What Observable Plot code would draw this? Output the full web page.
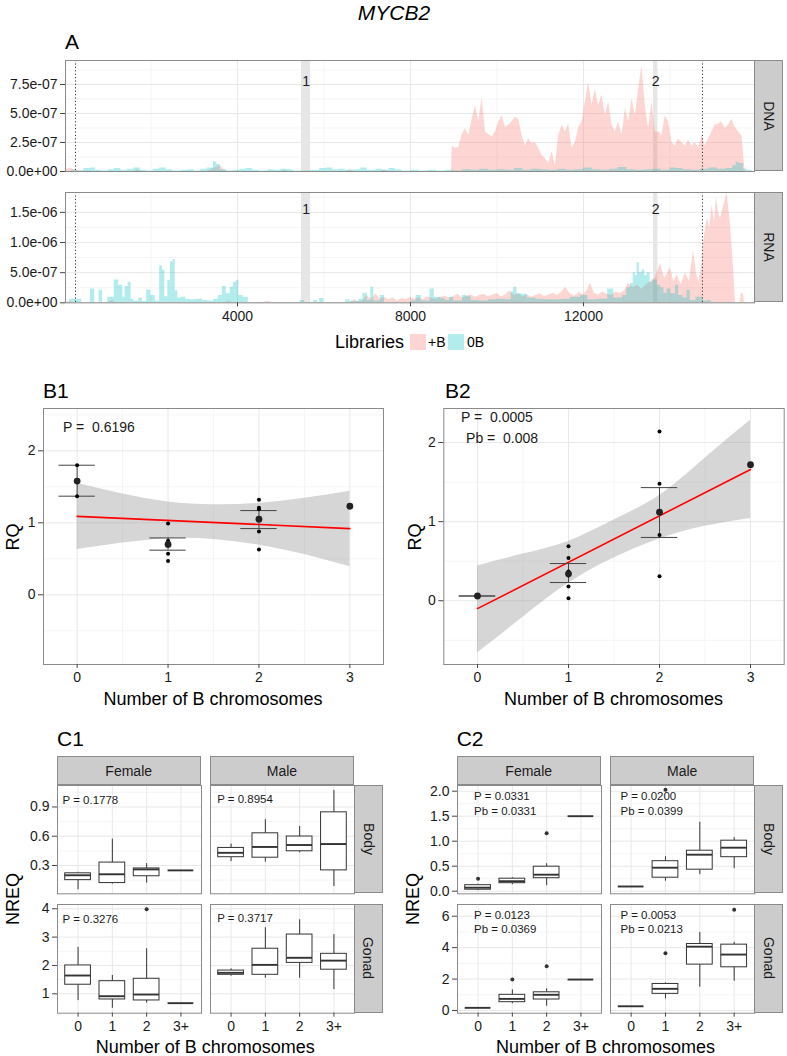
<!DOCTYPE html>
<html><head><meta charset="utf-8">
<script src="https://cdn.jsdelivr.net/npm/d3@7"></script>
<script src="https://cdn.jsdelivr.net/npm/@observablehq/plot@0.6"></script>
<style>
body{margin:0;background:#fff;}
#fig{position:relative;width:787px;height:1056px;font-family:"Liberation Sans",Arial,Helvetica,sans-serif;color:#000;overflow:hidden;background:#fff;}
.lbl{position:absolute;white-space:nowrap;line-height:1;}
.strip{position:absolute;background:#cccccc;border:1px solid #8a8a8a;box-sizing:border-box;display:flex;align-items:center;justify-content:center;font-size:14px;color:#1a1a1a;}
.strip.v span{display:inline-block;transform:rotate(90deg);}
.plotbox{position:absolute;}
.sw{position:absolute;width:16px;height:16px;}
#fig g[aria-label$="tick label"], #fig g[aria-label$="tick label"] text{font-size:14px !important;}
</style></head>
<body><div id="fig"></div>
<script>
// ---------------- DATA ----------------
const unit = 1e-7;
// Panel A : genomic position (bp) and coverage (in 1e-7 units)
const exons = [{start: 5480, end: 5690, label: "1"}, {start: 13620, end: 13720, label: "2"}];
const dottedPos = [254, 14751];
const xTicksA = [4000, 8000, 12000];
const xMinorA = [2000, 6000, 10000, 14000];
const dnaTicks = [0, 2.5e-7, 5e-7, 7.5e-7];
const dnaTickLabels = ["0.0e+00", "2.5e-07", "5.0e-07", "7.5e-07"];
const rnaTicks = [0, 5e-7, 1e-6, 1.5e-6];
const rnaTickLabels = ["0.0e+00", "5.0e-07", "1.0e-06", "1.5e-06"];

const dnaPlusLow = [[30,0.15],[150,0.3],[250,0.1],[400,0.05],[700,0],[1600,0],[1700,0.15],[1800,0],[3300,0],[3400,0.2],[3600,0.5],[3700,0.1],[3800,0],[5000,0],[5100,0.1],[5200,0],[6500,0],[6600,0.15],[6700,0],[7300,0],[7400,0.15],[7500,0],[8950,0]];
const dnaPlusStart = 8963, dnaPlusStep = 77;
const dnaPlusMain = [2.2,2.0,2.1,3.2,3.7,3.1,4.5,5.7,4.3,6.4,3.4,3.2,3.0,3.4,4.3,4.8,3.8,4.0,4.3,4.7,4.5,3.1,2.2,2.8,2.4,2.5,2.0,1.4,1.1,0.7,1.7,0.5,3.1,4.0,3.4,4.1,2.0,2.5,3.8,4.3,6.0,7.7,5.7,7.1,5.7,6.6,4.8,6.0,4.0,3.4,4.3,3.1,5.4,4.3,6.3,4.8,7.1,9.1,5.7,3.7,6.0,3.4,3.4,3.1,4.8,4.3,2.5,2.2,2.8,2.5,2.2,2.7,2.2,2.5,2.0,3.1,2.2,2.8,3.4,4.0,4.1,4.3,3.7,4.0,4.5,3.8,3.4,3.1,0];
const dnaZero = [[30,0],[150,0.1],[300,0.05],[450,0.25],[600,0.3],[720,0.1],[850,0.05],[1000,0.15],[1150,0.25],[1300,0.1],[1450,0.2],[1600,0.3],[1750,0.1],[1900,0.05],[2050,0.2],[2200,0.3],[2350,0.15],[2500,0.05],[2700,0.1],[2850,0.15],[3000,0.05],[3150,0.2],[3300,0.3],[3445,0.85],[3520,0.6],[3600,0.15],[3750,0.05],[3900,0.1],[4050,0.2],[4200,0.25],[4350,0.1],[4500,0.05],[4700,0.15],[4850,0.1],[5000,0.2],[5150,0.15],[5300,0.05],[5500,0.05],[5700,0.1],[5900,0.25],[6050,0.3],[6200,0.15],[6350,0.2],[6500,0.1],[6700,0.15],[6850,0.3],[7000,0.1],[7200,0.2],[7350,0.1],[7500,0.25],[7650,0.15],[7800,0.05],[8000,0.1],[8200,0.05],[8400,0.1],[8600,0.05],[8800,0.1],[9000,0.05],[9200,0.15],[9400,0.1],[9600,0.2],[9800,0.1],[10000,0.15],[10200,0.1],[10400,0.25],[10600,0.1],[10800,0.2],[11000,0.15],[11200,0.1],[11400,0.2],[11600,0.1],[11800,0.15],[12000,0.3],[12200,0.15],[12400,0.1],[12600,0.2],[12800,0.35],[13000,0.15],[13200,0.1],[13400,0.15],[13600,0.2],[13800,0.1],[14000,0.3],[14150,0.25],[14300,0.15],[14500,0.1],[14700,0.2],[14900,0.3],[15100,0.2],[15300,0.25],[15450,0.5],[15530,0.8],[15600,0.7],[15700,0.2],[15800,0.1],[15900,0]];
const rnaPlus = [[30,0],[100,0.3],[200,0],[1000,0],[1100,0.4],[1200,0],[3700,0],[3800,0.3],[3900,0],[4600,0],[4700,0.3],[4800,0],[6600,0],[6700,0.5],[6800,0.2],[6900,0.3],[7000,1.2],[7100,0.5],[7200,1.5],[7300,0.6],[7400,0.9],[7500,0.5],[7600,0.8],[7700,0.3],[7800,0.7],[7900,0.5],[8000,0.9],[8100,0.6],[8200,0.8],[8300,0.5],[8400,1.0],[8500,0.7],[8600,0.6],[8700,0.9],[8800,1.1],[8900,0.8],[9000,1.0],[9100,1.4],[9200,0.8],[9300,1.1],[9400,1.3],[9500,0.9],[9600,1.2],[9700,1.4],[9800,1.0],[9900,1.3],[10000,1.6],[10100,1.0],[10200,1.3],[10300,2.0],[10400,1.2],[10500,1.5],[10600,1.0],[10700,1.3],[10800,0.9],[10900,1.2],[11000,1.5],[11100,1.0],[11200,1.3],[11300,1.6],[11400,1.2],[11500,1.8],[11580,2.6],[11700,1.4],[11800,1.1],[11900,1.7],[12000,1.3],[12100,2.2],[12160,3.3],[12250,1.6],[12350,1.3],[12450,1.8],[12550,1.4],[12650,1.2],[12750,1.8],[12850,1.5],[12950,2.0],[13040,3.2],[13150,2.5],[13250,2.9],[13350,2.2],[13450,3.0],[13550,3.5],[13650,4.0],[13780,6.5],[13880,4.0],[14012,5.9],[14090,3.5],[14166,4.6],[14260,3.0],[14358,5.0],[14450,3.5],[14545,8.7],[14610,5.0],[14667,3.4],[14730,6.0],[14782,10.4],[14860,14.0],[14920,12.5],[14975,16.2],[15030,13.5],[15075,17.6],[15120,15.0],[15168,14.0],[15245,16.2],[15322,18.2],[15400,12.9],[15476,5.1],[15514,0],[15620,0],[15650,1.5],[15700,1.5],[15720,0],[15950,0]];
const rnaZero = [[30,0],[120,0.6],[400,0],[600,2.3],[700,0],[800,2.1],[880,0],[1000,0.9],[1150,3.8],[1250,2.9],[1350,0.9],[1400,2.7],[1470,3.4],[1540,0.6],[1600,0.3],[1720,0.8],[1800,0.2],[1900,2.1],[2000,1.2],[2100,0.3],[2200,6.1],[2270,5.4],[2320,1.0],[2390,3.7],[2450,6.8],[2510,7.2],[2560,2.0],[2620,0.8],[2700,0.9],[2800,0.6],[2900,0.5],[3050,0.6],[3200,0.4],[3300,0.3],[3450,0.6],[3560,1.2],[3650,2.7],[3740,1.5],[3830,2.6],[3900,3.4],[3970,3.7],[4030,1.2],[4130,0.9],[4250,0],[5420,0],[5450,0.4],[5550,0],[5760,0.4],[5850,0],[5900,0.7],[6000,0],[6500,0.5],[6600,0.2],[6800,0.6],[6900,1.6],[7000,0.4],[7080,2.6],[7150,0.3],[7300,1.2],[7400,0],[8000,0.3],[8130,1.2],[8250,0.3],[8450,2.3],[8550,0.9],[8700,0.7],[8800,0.4],[8900,0.9],[9000,0.3],[9200,1.2],[9300,1.0],[9400,0.4],[9600,0.3],[9800,0.5],[10000,0.6],[10200,0.5],[10330,1.8],[10380,2.6],[10460,1.5],[10560,1.4],[10700,0.8],[10900,0.6],[11100,0.5],[11300,0.5],[11500,0.6],[11700,0.9],[11930,1.2],[12100,0.5],[12300,0.6],[12560,2.3],[12700,0.8],[12900,1.2],[13000,2.5],[13087,3.2],[13150,5.0],[13200,4.5],[13240,6.7],[13290,5.0],[13360,5.5],[13420,4.5],[13472,5.0],[13540,3.4],[13600,3.8],[13703,2.9],[13780,2.5],[13860,1.6],[13934,2.3],[14020,1.5],[14127,2.9],[14200,1.2],[14300,0.8],[14397,2.1],[14470,0.4],[14600,0.9],[14760,0.3],[14860,0.4],[14950,0],[15950,0]];
const exonLabelY = {dna: 7.8e-7, rna: 1.54e-6};

// Panels B : RQ vs number of B chromosomes
const bTicksX = [0, 1, 2, 3];
const bandX = [0, 0.5, 1, 1.5, 2, 2.5, 3];
const b1BandLo = [0.63, 0.72, 0.78, 0.77, 0.69, 0.56, 0.39];
const b1BandHi = [1.55, 1.40, 1.29, 1.25, 1.27, 1.34, 1.44];
const b1Fit = [[0, 1.09], [3, 0.92]];
const b1Points = [[0,1.80],[0,1.37],[1,0.99],[1,0.75],[1,0.70],[1,0.57],[1,0.47],[2,1.32],[2,1.21],[2,1.19],[2,0.88],[2,0.63]];
const b1Means = [[0,1.58],[1,0.70],[2,1.05],[3,1.23]];
const b1Errors = [[0,1.37,1.80],[1,0.62,0.79],[2,0.92,1.17]];
const b2BandLo = [-0.66, -0.21, 0.22, 0.54, 0.78, 0.94, 1.04];
const b2BandHi = [0.44, 0.59, 0.75, 1.02, 1.33, 1.80, 2.28];
const b2Fit = [[0, -0.10], [3, 1.66]];
const b2Points = [[0,0.06],[1,0.69],[1,0.54],[1,0.37],[1,0.32],[1,0.18],[1,0.03],[2,2.14],[2,1.48],[2,1.12],[2,0.83],[2,0.31],[3,1.72]];
const b2Means = [[0,0.06],[1,0.34],[2,1.12],[3,1.72]];
const b2Errors = [[0,0.06,0.06],[1,0.23,0.47],[2,0.80,1.43]];

// Panels C : NREQ boxplots  [lower whisker, Q1, median, Q3, upper whisker]
const cCategories = ["0", "1", "2", "3+"];
const c1BodyFemale = [[0.05,0.15,0.20,0.22,0.23],[0.11,0.12,0.21,0.33,0.57],[0.12,0.19,0.26,0.27,0.32],[0.25,0.25,0.25,0.25,0.25]];
const c1BodyMale = [[0.34,0.385,0.43,0.48,0.52],[0.335,0.38,0.49,0.63,0.77],[0.43,0.446,0.51,0.597,0.70],[0.085,0.25,0.52,0.845,1.07]];
const c1GonadFemale = [[0.76,1.32,1.645,2.0,2.64],[0.49,0.80,0.915,1.445,1.645],[0.67,0.765,0.975,1.53,2.59],[0.67,0.67,0.67,0.67,0.67]];
const c1GonadFemaleOut = [[2,3.98]];
const c1GonadMale = [[1.62,1.67,1.74,1.82,1.88],[1.55,1.67,2.02,2.59,3.33],[1.55,2.09,2.27,3.09,3.61],[1.15,1.85,2.17,2.41,3.09]];
const c2BodyFemale = [[0.01,0.03,0.07,0.12,0.14],[0.13,0.16,0.20,0.25,0.27],[0.11,0.26,0.33,0.49,0.55],[1.5,1.5,1.5,1.5,1.5]];
const c2BodyFemaleOut = [[0,0.25],[2,1.16]];
const c2BodyMale = [[0.094,0.094,0.094,0.094,0.094],[0.20,0.27,0.47,0.60,0.69],[0.33,0.43,0.73,0.81,1.38],[0.45,0.68,0.87,1.01,1.07]];
const c2BodyMaleOut = [[1,2.03]];
const c2GonadFemale = [[0.17,0.17,0.17,0.17,0.17],[0.43,0.53,0.74,1.0,1.31],[0.27,0.70,1.0,1.16,1.38],[1.97,1.97,1.97,1.97,1.97]];
const c2GonadFemaleOut = [[1,1.97],[2,2.81]];
const c2GonadMale = [[0.27,0.27,0.27,0.27,0.27],[0.74,1.06,1.38,1.69,1.76],[1.48,2.92,4.06,4.23,4.97],[1.86,2.75,3.56,4.19,4.34]];
const c2GonadMaleOut = [[1,3.64],[3,6.41]];

// ---------------- HELPERS ----------------
const FONT = '"Liberation Sans", Arial, Helvetica, sans-serif';
const baseStyle = {background: "none", overflow: "visible", fontFamily: FONT, fontSize: "14px", color: "#1a1a1a"};
const fig = document.getElementById("fig");
const GRID = "#e8e8e8", GRIDMINOR = "#f5f5f5", BORDER = "#8a8a8a", TXT = "#1a1a1a";
const AX = {fontSize: 14, fill: TXT, stroke: "#444"};

function place(node, left, top) {
  const d = document.createElement("div");
  d.className = "plotbox"; d.style.left = left + "px"; d.style.top = top + "px";
  d.appendChild(node); fig.appendChild(d);
}
function txt(text, x, y, {size = 14, anchor = "middle", rotate = 0, italic = false} = {}) {
  const d = document.createElement("div");
  d.className = "lbl"; d.textContent = text;
  d.style.left = x + "px"; d.style.top = y + "px"; d.style.fontSize = size + "px";
  if (italic) d.style.fontStyle = "italic";
  const tx = anchor === "middle" ? "-50%" : anchor === "start" ? "0%" : "-100%";
  d.style.transform = `translate(${tx},-50%)` + (rotate ? ` rotate(${rotate}deg)` : "");
  fig.appendChild(d);
}
function strip(text, left, top, w, h, vertical) {
  const d = document.createElement("div");
  d.className = "strip" + (vertical ? " v" : "");
  Object.assign(d.style, {left: left + "px", top: top + "px", width: w + "px", height: h + "px"});
  const s = document.createElement("span"); s.textContent = text; d.appendChild(s);
  fig.appendChild(d);
}
const pairs = (arr) => arr.map(([pos, val]) => ({pos, val: val * unit}));

// ---------------- PANEL A ----------------
const xDomainA = [23, 15954];
function genome({top, h, yDomain, yTicks, yLabels, plus, zero, labelY, showX}) {
  const mT = 4, mB = showX ? 30 : 4, mL = 65, mR = 33;
  const yMinor = yTicks.slice(0, -1).map((t, i) => (t + yTicks[i + 1]) / 2).concat([yTicks[yTicks.length - 1] + (yTicks[1] - yTicks[0]) / 2]);
  const marks = [
    Plot.ruleX(xMinorA, {stroke: GRIDMINOR}),
    Plot.ruleY(yMinor, {stroke: GRIDMINOR}),
    Plot.ruleX(xTicksA, {stroke: GRID}),
    Plot.ruleY(yTicks, {stroke: GRID}),
    Plot.rect(exons, {x1: "start", x2: "end", fill: "#e6e6e6"}),
    Plot.areaY(plus, {x: "pos", y: "val", fill: "#F8766D", fillOpacity: 0.3, clip: true}),
    Plot.areaY(zero, {x: "pos", y: "val", fill: "#00BFC4", fillOpacity: 0.3, curve: "step-after", clip: true}),
    Plot.ruleX(dottedPos, {stroke: "#333", strokeDasharray: "1.2,2.2", strokeWidth: 1}),
    Plot.text(exons, {x: d => (d.start + d.end) / 2, y: () => labelY, text: "label", fontSize: 14, fill: TXT}),
    Plot.frame({stroke: BORDER}),
    Plot.axisY({ticks: yTicks, tickFormat: d => yLabels[yTicks.indexOf(d)], tickSize: 5, tickPadding: 3, ...AX})
  ];
  if (showX) marks.push(Plot.axisX({ticks: xTicksA, tickFormat: d => String(d), tickSize: 4, tickPadding: 4, ...AX}));
  const p = Plot.plot({
    width: 787, height: h + mT + mB, marginTop: mT, marginBottom: mB, marginLeft: mL, marginRight: mR,
    style: baseStyle,
    x: {domain: xDomainA, label: null, axis: showX ? undefined : null},
    y: {domain: yDomain, label: null},
    marks
  });
  place(p, 0, top - mT);
}

const dnaPlusAll = pairs(dnaPlusLow).concat(dnaPlusMain.map((v, i) => ({pos: dnaPlusStart + i * dnaPlusStep, val: v * unit})));
genome({top: 60, h: 111, yDomain: [0, 9.57e-7], yTicks: dnaTicks, yLabels: dnaTickLabels,
  plus: dnaPlusAll, zero: pairs(dnaZero), labelY: exonLabelY.dna, showX: false});
genome({top: 192, h: 110.3, yDomain: [0, 1.83e-6], yTicks: rnaTicks, yLabels: rnaTickLabels,
  plus: pairs(rnaPlus), zero: pairs(rnaZero), labelY: exonLabelY.rna, showX: true});

txt("MYCB2", 394, 12, {size: 21, italic: true});
txt("A", 65, 41, {size: 21, anchor: "start"});
strip("DNA", 754, 60, 29, 111, true);
strip("RNA", 754, 192, 29, 110.3, true);
// legend
txt("Libraries", 335, 342, {size: 18, anchor: "start"});
const sw1 = document.createElement("div"); sw1.className = "sw";
Object.assign(sw1.style, {left: "410px", top: "334px", background: "rgba(248,118,109,0.3)"}); fig.appendChild(sw1);
txt("+B", 428, 342, {size: 14, anchor: "start"});
const sw2 = document.createElement("div"); sw2.className = "sw";
Object.assign(sw2.style, {left: "448px", top: "334px", background: "rgba(0,191,196,0.3)"}); fig.appendChild(sw2);
txt("0B", 467, 342, {size: 14, anchor: "start"});

// ---------------- PANELS B ----------------
function rq({svgLeft, mL, areaW, mR, yDomain, yMinor, lo, hi, fit, points, means, errors, notes}) {
  const mT = 8, areaH = 256, mB = 30;
  const band = bandX.map((x, i) => ({x, lo: lo[i], hi: hi[i]}));
  const pts = points.map(([x, y]) => ({x, y}));
  const mns = means.map(([x, y]) => ({x, y}));
  const errs = errors.map(([x, l, h]) => ({x, l, h}));
  const p = Plot.plot({
    width: mL + areaW + mR, height: mT + areaH + mB,
    marginTop: mT, marginBottom: mB, marginLeft: mL, marginRight: mR,
    style: baseStyle,
    x: {domain: [-0.37, 3.37], label: null},
    y: {domain: yDomain, label: null},
    marks: [
      Plot.ruleX([0.5, 1.5, 2.5], {stroke: GRIDMINOR}),
      Plot.ruleY(yMinor, {stroke: GRIDMINOR}),
      Plot.ruleX(bTicksX, {stroke: GRID}),
      Plot.ruleY([0, 1, 2], {stroke: GRID}),
      Plot.areaY(band, {x: "x", y1: "lo", y2: "hi", fill: "#999999", fillOpacity: 0.4, curve: "natural", clip: true}),
      Plot.line(fit.map(([x, y]) => ({x, y})), {x: "x", y: "y", stroke: "#ff0000", strokeWidth: 1.6}),
      Plot.ruleX(errs, {x: "x", y1: "l", y2: "h", stroke: "#444", strokeWidth: 1}),
      Plot.ruleY(errs, {y: "l", x1: d => d.x - 0.2, x2: d => d.x + 0.2, stroke: "#444", strokeWidth: 1}),
      Plot.ruleY(errs, {y: "h", x1: d => d.x - 0.2, x2: d => d.x + 0.2, stroke: "#444", strokeWidth: 1}),
      Plot.dot(pts, {x: "x", y: "y", r: 2, fill: "#000", stroke: null}),
      Plot.dot(mns, {x: "x", y: "y", r: 3.4, fill: "#222", stroke: null}),
      Plot.text(notes, {x: "x", y: "y", text: "t", textAnchor: "start", fontSize: 14, fill: TXT}),
      Plot.frame({stroke: BORDER}),
      Plot.axisX({ticks: bTicksX, tickFormat: d => String(d), tickSize: 4, tickPadding: 4, ...AX}),
      Plot.axisY({ticks: [0, 1, 2], tickFormat: d => String(d), tickSize: 5, tickPadding: 3, ...AX})
    ]
  });
  place(p, svgLeft, 408 - mT);
}
rq({svgLeft: 0, mL: 43, areaW: 340, mR: 7, yDomain: [-0.968, 2.588], yMinor: [-0.5, 0.5, 1.5, 2.5],
  lo: b1BandLo, hi: b1BandHi, fit: b1Fit, points: b1Points, means: b1Means, errors: b1Errors,
  notes: [{x: -0.155, y: 2.32, t: "P =\u00a0 0.6196"}]});
rq({svgLeft: 390, mL: 53.3, areaW: 340.4, mR: 3.3, yDomain: [-0.806, 2.43], yMinor: [-0.5, 0.5, 1.5],
  lo: b2BandLo, hi: b2BandHi, fit: b2Fit, points: b2Points, means: b2Means, errors: b2Errors,
  notes: [{x: -0.18, y: 2.32, t: "P =\u00a0 0.0005"}, {x: -0.125, y: 2.05, t: "Pb =\u00a0 0.008"}]});
txt("B1", 43, 390, {size: 21, anchor: "start"});
txt("B2", 445, 390, {size: 21, anchor: "start"});
txt("RQ", 13, 537, {size: 18, rotate: -90});
txt("RQ", 415, 537, {size: 18, rotate: -90});
txt("Number of B chromosomes", 213, 699, {size: 18});
txt("Number of B chromosomes", 613.5, 699, {size: 18});

// ---------------- PANELS C ----------------
function box({left, top, w, h, yDomain, yTicks, yMinor, yFmt, stats, out = [], notes, showY, showX}) {
  const mL = showY ? 50 : 2, mR = 2, mT = 2, mB = showX ? 30 : 2;
  const s = stats.map((v, i) => ({i, lo: v[0], q1: v[1], med: v[2], q3: v[3], hi: v[4]}));
  const o = out.map(([i, v]) => ({i, v}));
  const marks = [
    Plot.ruleY(yMinor, {stroke: GRIDMINOR}),
    Plot.ruleX([0, 1, 2, 3], {stroke: GRID}),
    Plot.ruleY(yTicks, {stroke: GRID}),
    Plot.ruleX(s, {x: "i", y1: "q3", y2: "hi", stroke: "#333"}),
    Plot.ruleX(s, {x: "i", y1: "lo", y2: "q1", stroke: "#333"}),
    Plot.rect(s, {x1: d => d.i - 0.375, x2: d => d.i + 0.375, y1: "q1", y2: "q3", fill: "white", stroke: "#333"}),
    Plot.ruleY(s, {y: "med", x1: d => d.i - 0.375, x2: d => d.i + 0.375, stroke: "#333", strokeWidth: 1.9}),
    Plot.dot(o, {x: "i", y: "v", r: 2, fill: "#333", stroke: null}),
    Plot.text(notes, {x: "x", y: "y", text: "t", textAnchor: "start", fontSize: 11.5, fill: TXT}),
    Plot.frame({stroke: BORDER})
  ];
  if (showY) marks.push(Plot.axisY({ticks: yTicks, tickFormat: yFmt, tickSize: 5, tickPadding: 3, ...AX}));
  if (showX) marks.push(Plot.axisX({ticks: [0, 1, 2, 3], tickFormat: i => cCategories[i], tickSize: 4, tickPadding: 4, ...AX}));
  const p = Plot.plot({
    width: mL + w + mR, height: mT + h + mB, marginTop: mT, marginBottom: mB, marginLeft: mL, marginRight: mR,
    style: baseStyle,
    x: {domain: [-0.6, 3.6], label: null, axis: showX ? undefined : null},
    y: {domain: yDomain, label: null, axis: showY ? undefined : null},
    marks
  });
  place(p, left - mL, top - mT);
}
const f1 = d3.format(".1f"), f0 = d3.format("d");
const bodyTop = 785, bodyH = 108.3, gonTop = 904, gonH = 108.7;
// C1
box({left: 56.7, top: bodyTop, w: 144, h: bodyH, yDomain: [0.01, 1.12], yTicks: [0.3, 0.6, 0.9], yMinor: [0.15, 0.45, 0.75, 1.05], yFmt: f1,
  stats: c1BodyFemale, notes: [{x: -0.454, y: 0.965, t: "P = 0.1778"}], showY: true, showX: false});
box({left: 210, top: bodyTop, w: 144, h: bodyH, yDomain: [0.01, 1.12], yTicks: [0.3, 0.6, 0.9], yMinor: [0.15, 0.45, 0.75, 1.05], yFmt: f1,
  stats: c1BodyMale, notes: [{x: -0.405, y: 0.976, t: "P = 0.8954"}], showY: false, showX: false});
box({left: 56.7, top: gonTop, w: 144, h: gonH, yDomain: [0.316, 4.15], yTicks: [1, 2, 3, 4], yMinor: [1.5, 2.5, 3.5], yFmt: f0,
  stats: c1GonadFemale, out: c1GonadFemaleOut, notes: [{x: -0.454, y: 3.62, t: "P = 0.3276"}], showY: true, showX: true});
box({left: 210, top: gonTop, w: 144, h: gonH, yDomain: [0.316, 4.15], yTicks: [1, 2, 3, 4], yMinor: [1.5, 2.5, 3.5], yFmt: f0,
  stats: c1GonadMale, notes: [{x: -0.405, y: 3.66, t: "P = 0.3717"}], showY: false, showX: true});
// C2
box({left: 456.7, top: bodyTop, w: 144, h: bodyH, yDomain: [-0.052, 2.114], yTicks: [0, 0.5, 1, 1.5, 2], yMinor: [0.25, 0.75, 1.25, 1.75], yFmt: f1,
  stats: c2BodyFemale, out: c2BodyFemaleOut, notes: [{x: -0.116, y: 1.90, t: "P = 0.0331"}, {x: -0.116, y: 1.60, t: "Pb = 0.0331"}], showY: true, showX: false});
box({left: 610, top: bodyTop, w: 144.3, h: bodyH, yDomain: [-0.052, 2.114], yTicks: [0, 0.5, 1, 1.5, 2], yMinor: [0.25, 0.75, 1.25, 1.75], yFmt: f1,
  stats: c2BodyMale, out: c2BodyMaleOut, notes: [{x: -0.308, y: 1.90, t: "P = 0.0200"}, {x: -0.308, y: 1.60, t: "Pb = 0.0399"}], showY: false, showX: false});
box({left: 456.7, top: gonTop, w: 144, h: gonH, yDomain: [-0.17, 6.745], yTicks: [0, 2, 4, 6], yMinor: [1, 3, 5], yFmt: f0,
  stats: c2GonadFemale, out: c2GonadFemaleOut, notes: [{x: -0.116, y: 6.08, t: "P = 0.0123"}, {x: -0.116, y: 5.14, t: "Pb = 0.0369"}], showY: true, showX: true});
box({left: 610, top: gonTop, w: 144.3, h: gonH, yDomain: [-0.17, 6.745], yTicks: [0, 2, 4, 6], yMinor: [1, 3, 5], yFmt: f0,
  stats: c2GonadMale, out: c2GonadMaleOut, notes: [{x: -0.308, y: 6.08, t: "P = 0.0053"}, {x: -0.308, y: 5.14, t: "Pb = 0.0213"}], showY: false, showX: true});

// strips & titles for C
strip("Female", 56.7, 756, 144, 29, false);
strip("Male", 210, 756, 144, 29, false);
strip("Body", 354, bodyTop, 29, bodyH, true);
strip("Gonad", 354, gonTop, 29, gonH, true);
strip("Female", 456.7, 756, 144, 29, false);
strip("Male", 610, 756, 144.3, 29, false);
strip("Body", 754.3, bodyTop, 29, bodyH, true);
strip("Gonad", 754.3, gonTop, 29, gonH, true);
txt("C1", 57, 738, {size: 21, anchor: "start"});
txt("C2", 456.7, 738, {size: 21, anchor: "start"});
txt("NREQ", 13, 899, {size: 18, rotate: -90});
txt("NREQ", 413, 899, {size: 18, rotate: -90});
txt("Number of B chromosomes", 205.3, 1047, {size: 18});
txt("Number of B chromosomes", 605.5, 1047, {size: 18});
</script>
</body></html>
